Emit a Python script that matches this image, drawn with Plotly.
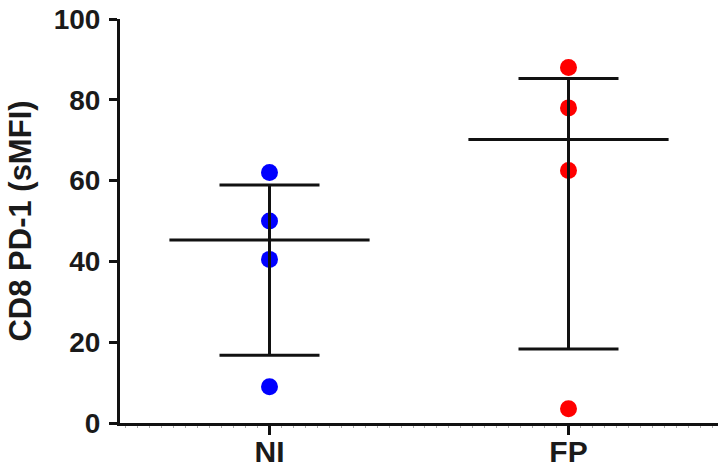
import plotly.graph_objects as go

# Data
categories = ["NI", "FP"]
ni_values = [62, 50, 40.5, 9]
fp_values = [88, 78, 62.5, 3.5]
# Summary lines (median with interquartile range)
medians = [45.3, 70.2]
q1 = [16.8, 18.3]
q3 = [58.9, 85.3]
colors = ["#0000FF", "#FF0000"]
y_ticks = [0, 20, 40, 60, 80, 100]

FONT = "Liberation Sans, Arial, sans-serif"
xpos = list(range(len(categories)))

fig = go.Figure()
for i, vals in enumerate([ni_values, fp_values]):
    fig.add_trace(go.Scatter(
        x=[xpos[i]] * len(vals), y=vals, mode="markers",
        marker=dict(color=colors[i], size=17, line=dict(width=0)),
        showlegend=False, hoverinfo="y"))

# Error bars (IQR) with caps
fig.add_trace(go.Scatter(
    x=xpos, y=medians, mode="markers",
    marker=dict(size=1, color="rgba(0,0,0,0)"),
    error_y=dict(type="data", symmetric=False,
                 array=[q3[i] - medians[i] for i in range(len(medians))],
                 arrayminus=[medians[i] - q1[i] for i in range(len(medians))],
                 color="#111111", thickness=3, width=50),
    showlegend=False, hoverinfo="skip"))
# Median lines (line-ew symbol length = 1.4 * size)
fig.add_trace(go.Scatter(
    x=xpos, y=medians, mode="markers",
    marker=dict(symbol="line-ew", size=143, line=dict(color="#111111", width=3)),
    showlegend=False, hoverinfo="y"))

fig.update_layout(
    width=721, height=476,
    margin=dict(l=120, r=3, t=19, b=53),
    plot_bgcolor="white", paper_bgcolor="white",
    font=dict(family=FONT, color="#1a1a1a", weight="bold"),
    xaxis=dict(range=[-0.5, 1.5], tickvals=xpos, ticktext=categories,
               showgrid=False, zeroline=False, showline=True, linecolor="#111111",
               linewidth=3, ticks="outside", ticklen=9, tickwidth=3, tickcolor="#111111",
               ticklabelstandoff=-9,
               tickfont=dict(size=30, family=FONT, weight="bold"),
               minor=dict(ticks="outside", dtick=0.04, tick0=0, ticklen=2,
                          tickwidth=1, tickcolor="#aaaaaa", showgrid=False)),
    yaxis=dict(range=[0, 100], tickvals=y_ticks,
               showgrid=False, zeroline=False, showline=True, linecolor="#111111",
               linewidth=3, ticks="outside", ticklen=8, tickwidth=3, tickcolor="#111111",
               ticklabelstandoff=3,
               tickfont=dict(size=28, family=FONT, weight="bold"),
               title=dict(text="CD8 PD-1 (sMFI)", standoff=13,
                          font=dict(size=31, family=FONT, weight="bold"))),
)
fig.write_html("out.html")
